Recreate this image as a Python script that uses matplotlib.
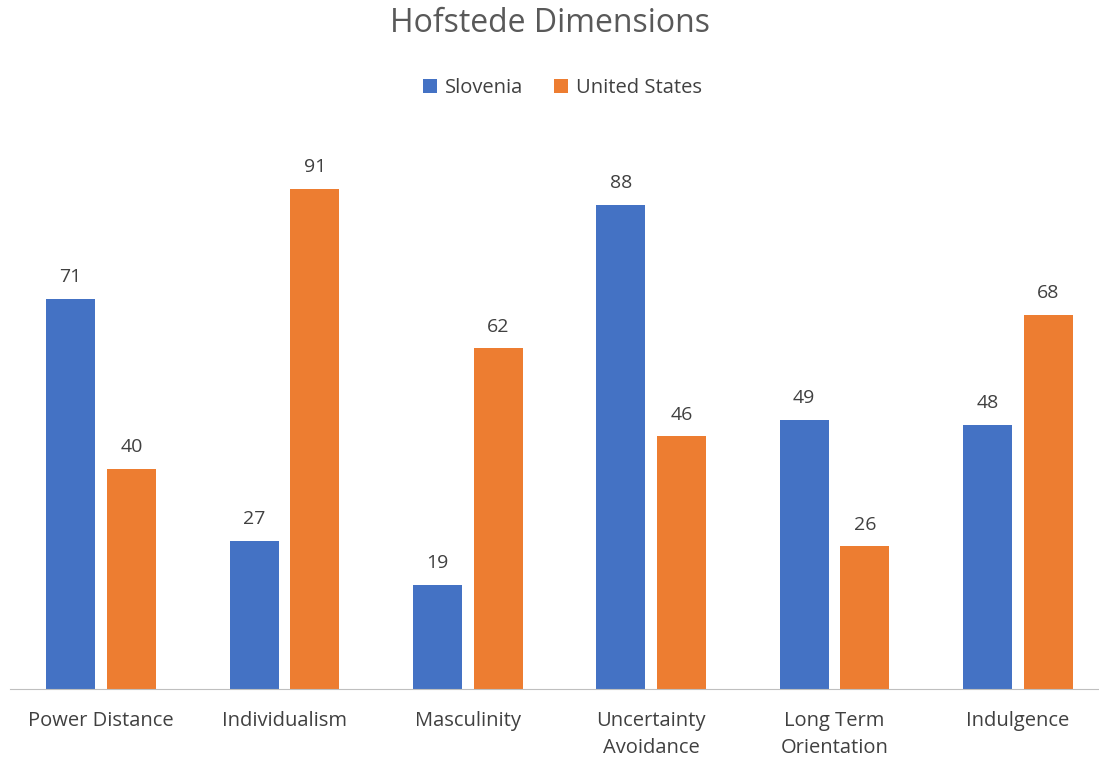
import numpy as np
import matplotlib.pyplot as plt

categories = ["Power Distance", "Individualism", "Masculinity",
              "Uncertainty\nAvoidance", "Long Term\nOrientation", "Indulgence"]
slovenia = [71, 27, 19, 88, 49, 48]
united_states = [40, 91, 62, 46, 26, 68]

plt.rcParams['font.family'] = ['Open Sans', 'DejaVu Sans']
grey = '#595959'

fig = plt.figure(figsize=(10.99, 7.60), dpi=100)
ax = fig.add_axes([9.5 / 1099, 71 / 760, 1100 / 1099, 550 / 760])

x = np.arange(len(categories))
w = 0.267
off = 0.166
b1 = ax.bar(x - off, slovenia, w, color='#4472C4', label='Slovenia')
b2 = ax.bar(x + off, united_states, w, color='#ED7D31', label='United States')

for bars in (b1, b2):
    for r in bars:
        ax.annotate(str(int(r.get_height())), (r.get_x() + r.get_width() / 2, r.get_height()),
                    xytext=(0, 9), textcoords='offset points', ha='center', va='bottom',
                    fontsize=14, color='#404040')

ax.set_xlim(-0.5, len(categories) - 0.5)
ax.set_ylim(0, 100)
ax.set_xticks(x)
ax.set_xticklabels(categories, fontsize=14.5, color='#404040', linespacing=1.45)
ax.tick_params(axis='x', length=0, pad=16)
ax.set_yticks([])
for s in ['top', 'right', 'left']:
    ax.spines[s].set_visible(False)
ax.spines['bottom'].set_color('#BFBFBF')

fig.text(0.5, 1 - 24 / 760, 'Hofstede Dimensions', ha='center', va='center', fontsize=23, color=grey)
fig.legend(handles=[b1, b2], loc='center', bbox_to_anchor=(0.5 + 13 / 1099, 1 - 88 / 760), ncol=2,
           frameon=False, fontsize=14.5, handlelength=0.7, handleheight=0.7,
           handletextpad=0.4, columnspacing=1.5, labelcolor='#404040')

fig.savefig('out.png', dpi=100)
